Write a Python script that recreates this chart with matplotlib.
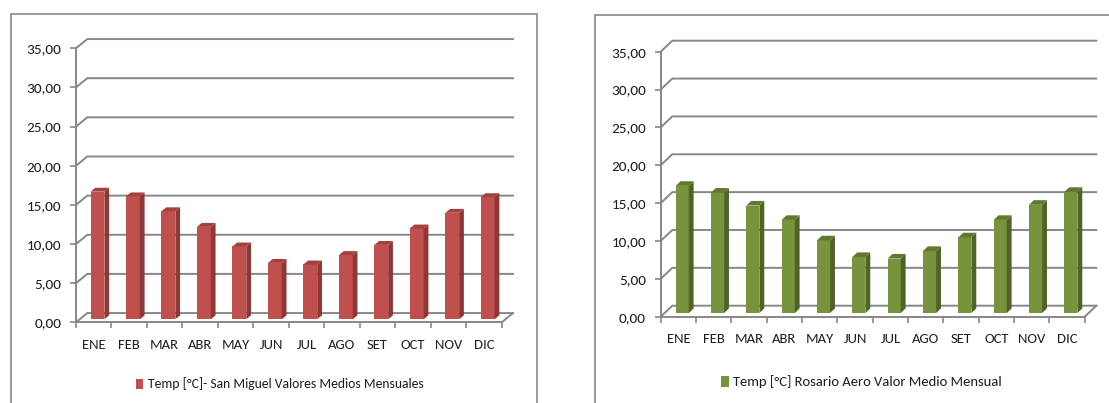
import numpy as np
import matplotlib
matplotlib.use("Agg")
import matplotlib.pyplot as plt
from matplotlib.patches import Polygon, Rectangle
from matplotlib.ticker import FuncFormatter

plt.rcParams['font.family'] = ['Carlito', 'DejaVu Sans']

months = ["ENE", "FEB", "MAR", "ABR", "MAY", "JUN", "JUL", "AGO", "SET", "OCT", "NOV", "DIC"]
san_miguel = [16.3, 15.7, 13.8, 11.8, 9.3, 7.2, 7.0, 8.2, 9.5, 11.6, 13.6, 15.6]
rosario = [16.8, 15.9, 14.2, 12.3, 9.6, 7.4, 7.2, 8.2, 10.0, 12.3, 14.3, 16.0]
y_ticks = [0, 5, 10, 15, 20, 25, 30, 35]

label_sm = "Temp [°C]- San Miguel Valores Medios Mensuales"
label_ro = "Temp [°C] Rosario Aero Valor Medio Mensual"

RED = ("#C0504D", "#8E3735", "#A4403E")
GREEN = ("#77933C", "#4F6228", "#61792F")
GRID = "#878787"
TEXT = "#1E1E1E"
FS = 10.5

W, H = 1109, 403
fig = plt.figure(figsize=(W / 100, H / 100), dpi=100)


def add_axes_px(x0, x1, y0, y1):
    # pixel box measured from the top-left corner of the figure
    return fig.add_axes([x0 / W, 1 - y0 / H, (x1 - x0) / W, (y0 - y1) / H])


def frame_px(x0, y0, x1, y1):
    fig.patches.append(Rectangle((x0 / W, 1 - y1 / H), (x1 - x0) / W, (y1 - y0) / H,
                                 transform=fig.transFigure, fill=False,
                                 edgecolor=GRID, lw=1.2, zorder=0))


def draw_panel(ax, values, label, colors, ddx, ddy, bar_w, legend_xy, legend_fs):
    face, side, top = colors
    n = len(values)
    front, deep = 0.33, 0.42

    # side wall and back wall gridlines
    for v in y_ticks:
        ax.plot([0, ddx, n + ddx], [v, v + ddy, v + ddy], color=GRID, lw=1.4,
                clip_on=False, zorder=1, solid_joinstyle="miter")
    ax.plot([n, n + ddx], [0, ddy], color=GRID, lw=1.4, clip_on=False, zorder=1)

    x = np.arange(n) + 0.5 + front * ddx
    base = front * ddy
    bars = ax.bar(x, values, width=bar_w, bottom=base, color=face, zorder=3,
                  label=label, clip_on=False)
    ox, oy = deep * ddx, deep * ddy
    for rect in bars:
        xl = rect.get_x()
        xr = xl + rect.get_width()
        yt = rect.get_y() + rect.get_height()
        ax.add_patch(Polygon([(xr, base), (xr + ox, base + oy), (xr + ox, yt + oy), (xr, yt)],
                             closed=True, facecolor=side, edgecolor="none", zorder=3, clip_on=False))
        ax.add_patch(Polygon([(xl, yt), (xl + ox, yt + oy), (xr + ox, yt + oy), (xr, yt)],
                             closed=True, facecolor=top, edgecolor="none", zorder=3, clip_on=False))

    ax.set_xlim(0, n)
    ax.set_ylim(0, 35)
    for s in ("top", "right"):
        ax.spines[s].set_visible(False)
    for s in ("left", "bottom"):
        ax.spines[s].set_color(GRID)
        ax.spines[s].set_linewidth(1.4)
        ax.spines[s].set_zorder(2)
    ax.patch.set_visible(False)

    ax.set_yticks(y_ticks)
    ax.yaxis.set_major_formatter(FuncFormatter(lambda v, p: f"{v:.2f}".replace(".", ",")))
    ax.tick_params(axis="y", length=4, width=1.2, color=GRID, pad=6.5,
                   labelsize=11, labelcolor=TEXT)
    ax.set_xticks(np.arange(n + 1))
    ax.set_xticklabels([])
    ax.set_xticks(np.arange(n) + 0.5, minor=True)
    ax.set_xticklabels(months, minor=True)
    ax.tick_params(axis="x", which="major", length=4.5, width=1.2, color=GRID)
    ax.tick_params(axis="x", which="minor", length=0, pad=12,
                   labelsize=FS, labelcolor=TEXT)

    ax.legend(handles=[bars], loc="center left", bbox_to_anchor=legend_xy,
              bbox_transform=fig.transFigure, frameon=False, fontsize=legend_fs,
              handlelength=0.55, handleheight=0.75, handletextpad=0.3,
              borderpad=0, borderaxespad=0, labelcolor=TEXT)


frame_px(10.7, 14, 537, 420)
frame_px(595, 15, 1130, 420)

ax1 = add_axes_px(76, 501.7, 322.3, 48.3)
draw_panel(ax1, san_miguel, label_sm, RED, 11.3 / 35.47, 9.3 / 7.87, 0.39,
           (136 / W, 1 - 384 / H), 9.8)

ax2 = add_axes_px(660.7, 1084.7, 316.7, 51.7)
draw_panel(ax2, rosario, label_ro, GREEN, 11.6 / 35.33, 11.0 / 7.57, 0.37,
           (721 / W, 1 - 382 / H), FS)

fig.savefig("out.png", dpi=100, facecolor="white")
